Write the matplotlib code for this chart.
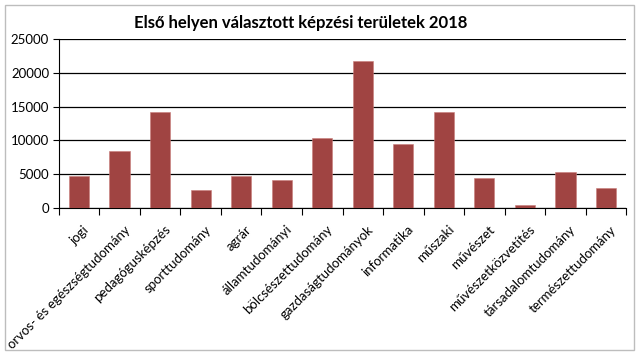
import matplotlib.pyplot as plt
from matplotlib.patches import Rectangle

categories = ['jogi', 'orvos- és egészségtudomány', 'pedagógusképzés', 'sporttudomány',
              'agrár', 'államtudományi', 'bölcsészettudomány', 'gazdaságtudományok',
              'informatika', 'műszaki', 'művészet', 'művészetközvetítés',
              'társadalomtudomány', 'természettudomány']
values = [4700, 8400, 14200, 2700, 4750, 4100, 10400, 21700, 9400, 14200, 4500, 500, 5300, 2900]
yticks = [0, 5000, 10000, 15000, 20000, 25000]

plt.rcParams['font.family'] = ['Lato', 'DejaVu Sans']

fig = plt.figure(figsize=(6.39, 3.56), dpi=100)
# light border around the whole chart area
fig.patches.append(Rectangle((0.008, 0.016), 0.984, 0.97, transform=fig.transFigure,
                             fill=False, edgecolor='#bdbdbd', linewidth=1))

ax = fig.add_axes([0.092, 0.416, 0.888, 0.474])
x = list(range(len(categories)))
ax.bar(x, values, width=0.5, color='#A04442', edgecolor='#c87c7a', linewidth=0.4, zorder=3)

ax.set_xlim(-0.5, len(categories) - 0.5)
ax.set_ylim(0, 25000)
ax.set_yticks(yticks)
ax.set_yticklabels([str(v) for v in yticks], fontsize=9.5)
ax.yaxis.grid(True, color='black', linewidth=0.9, zorder=0)
ax.tick_params(axis='y', length=4, direction='out', pad=3)

# category ticks sit between bars
ax.set_xticks([i - 0.5 for i in range(len(categories) + 1)], minor=False)
ax.set_xticklabels([])
ax.tick_params(axis='x', length=5, direction='out')
for i, lab in enumerate(categories):
    ax.text(i + 0.1, -2300, lab, rotation=45, ha='right', va='top',
            fontsize=9.5, rotation_mode='anchor')

for side in ['top', 'right']:
    ax.spines[side].set_visible(False)
ax.spines['left'].set_color('black')
ax.spines['bottom'].set_color('black')

fig.text(0.47, 0.935, 'Első helyen választott képzési területek 2018',
         ha='center', va='center', fontsize=12, fontweight='bold')

fig.savefig('out.png', dpi=100)
